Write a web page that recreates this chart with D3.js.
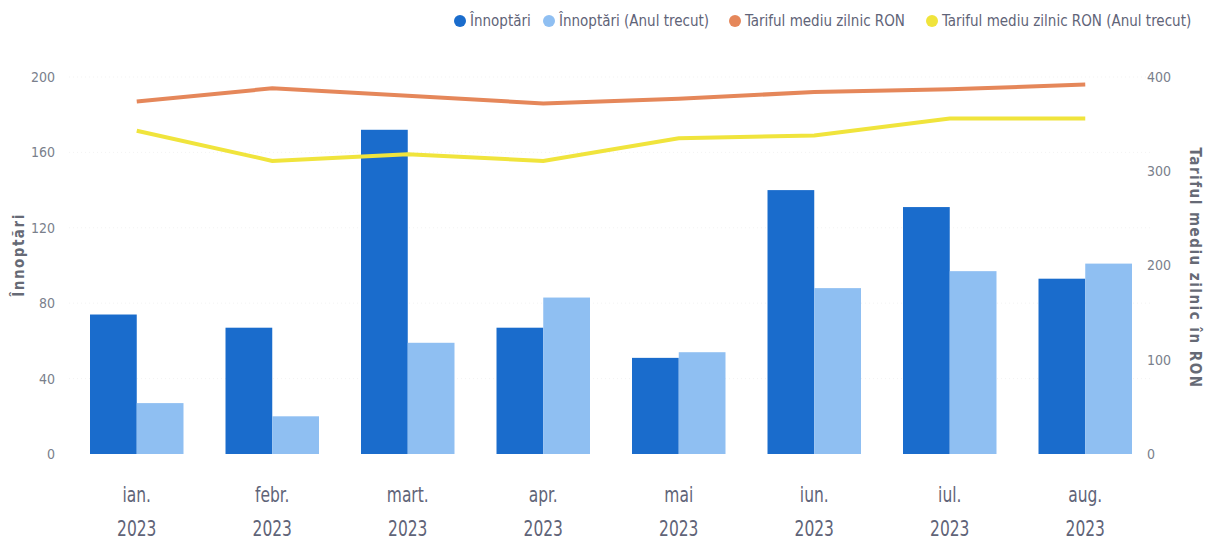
<!DOCTYPE html>
<html>
<head>
<meta charset="utf-8">
<script src="https://cdn.jsdelivr.net/npm/d3@7"></script>
<style>
  body { margin: 0; background: #fff; }
  text { font-family: "Liberation Sans Narrow", "DejaVu Sans Condensed", "Open Sans", sans-serif; }
</style>
</head>
<body>
<div id="chart"></div>
<script>
// values
const months = ['ian.', 'febr.', 'mart.', 'apr.', 'mai', 'iun.', 'iul.', 'aug.'];
const year = '2023';
const nights = [74, 67, 172, 67, 51, 140, 131, 93];
const nightsLastYear = [27, 20, 59, 83, 54, 88, 97, 101];
const rate = [374, 388, 380, 372, 377, 384, 387, 392];
const rateLastYear = [343, 311, 318, 311, 335, 338, 356, 356];
const leftTicks = [0, 40, 80, 120, 160, 200];
const rightTicks = [0, 100, 200, 300, 400];
const legendItems = [
  {label: 'Înnoptări', color: '#1a6ccc'},
  {label: 'Înnoptări (Anul trecut)', color: '#8fbff2'},
  {label: 'Tariful mediu zilnic RON', color: '#e5875a'},
  {label: 'Tariful mediu zilnic RON (Anul trecut)', color: '#f0e43c'}
];

const width = 1222, height = 551;
const margins = {top: 77, right: 69, bottom: 97, left: 69};
const chartHeight = height - margins.top - margins.bottom;

const svg = d3.select('#chart').append('svg')
  .attr('width', width)
  .attr('height', height);

const chart = svg.append('g')
  .attr('transform', `translate(0, ${margins.top})`);

const x = d3.scaleBand()
  .domain(months)
  .range([margins.left, width - margins.right])
  .paddingInner(0.31)
  .paddingOuter(0.155);

const xSeries = d3.scaleBand()
  .domain(['cur', 'prev'])
  .range([0, x.bandwidth()]);

const yLeft = d3.scaleLinear().domain([0, 200]).range([chartHeight, 0]);
const yRight = d3.scaleLinear().domain([0, 400]).range([chartHeight, 0]);

// faint gridlines
chart.append('g')
  .selectAll('line')
  .data(leftTicks.slice(1))
  .enter().append('line')
  .attr('x1', margins.left)
  .attr('x2', width - margins.right)
  .attr('y1', d => yLeft(d))
  .attr('y2', d => yLeft(d))
  .attr('stroke', '#f3f3f3')
  .attr('stroke-dasharray', '1,3');

// left axis
const leftAxis = chart.append('g')
  .attr('transform', `translate(55, 0)`)
  .call(d3.axisLeft(yLeft).tickValues(leftTicks).tickSize(0).tickPadding(0));
leftAxis.select('.domain').remove();
leftAxis.selectAll('text')
  .attr('fill', '#7a7f8c')
  .style('font-size', '14px');

// right axis
const rightAxis = chart.append('g')
  .attr('transform', `translate(${width - 75}, 0)`)
  .call(d3.axisRight(yRight).tickValues(rightTicks).tickSize(0).tickPadding(0));
rightAxis.select('.domain').remove();
rightAxis.selectAll('text')
  .attr('fill', '#7a7f8c')
  .style('font-size', '14px');

// axis titles
svg.append('text')
  .attr('transform', `translate(24, 255) rotate(-90)`)
  .attr('text-anchor', 'middle')
  .attr('fill', '#666a75')
  .style('font-size', '15px')
  .style('font-weight', 'bold')
  .style('letter-spacing', '1.5px')
  .text('Înnoptări');

svg.append('text')
  .attr('transform', `translate(1190, 268) rotate(90)`)
  .attr('text-anchor', 'middle')
  .attr('fill', '#666a75')
  .style('font-size', '15px')
  .style('font-weight', 'bold')
  .style('letter-spacing', '1.5px')
  .text('Tariful mediu zilnic în RON');

// bars
const groups = chart.selectAll('.month')
  .data(months)
  .enter().append('g')
  .attr('class', 'month')
  .attr('transform', d => `translate(${x(d)}, 0)`);

groups.append('rect')
  .attr('x', xSeries('cur'))
  .attr('width', xSeries.bandwidth())
  .attr('y', (d, i) => yLeft(nights[i]))
  .attr('height', (d, i) => chartHeight - yLeft(nights[i]))
  .attr('fill', legendItems[0].color);

groups.append('rect')
  .attr('x', xSeries('prev'))
  .attr('width', xSeries.bandwidth())
  .attr('y', (d, i) => yLeft(nightsLastYear[i]))
  .attr('height', (d, i) => chartHeight - yLeft(nightsLastYear[i]))
  .attr('fill', legendItems[1].color);

// lines
const line = d3.line()
  .x((d, i) => x(months[i]) + x.bandwidth() / 2)
  .y(d => yRight(d));

chart.append('path')
  .datum(rateLastYear)
  .attr('d', line)
  .attr('fill', 'none')
  .attr('stroke', legendItems[3].color)
  .attr('stroke-width', 4);

chart.append('path')
  .datum(rate)
  .attr('d', line)
  .attr('fill', 'none')
  .attr('stroke', legendItems[2].color)
  .attr('stroke-width', 4);

// x labels (narrow look, like the original)
const xLabels = svg.append('g')
  .selectAll('text')
  .data(months)
  .enter().append('text')
  .attr('text-anchor', 'middle')
  .attr('fill', '#5f6478')
  .style('font-size', '21px')
  .attr('transform', d => `translate(${x(d) + x.bandwidth() / 2}, 502) scale(0.82, 1)`);
xLabels.append('tspan').attr('x', 0).text(d => d);
xLabels.append('tspan').attr('x', 0).attr('dy', 34).text(year);

// legend
const legendX = [460, 549, 735, 932];
const legend = svg.append('g')
  .selectAll('g')
  .data(legendItems)
  .enter().append('g')
  .attr('transform', (d, i) => `translate(${legendX[i]}, 21)`);

legend.append('circle')
  .attr('r', 6)
  .attr('fill', d => d.color);

legend.append('text')
  .attr('x', 10)
  .attr('y', 5)
  .attr('fill', '#5f6478')
  .style('font-size', '15px')
  .text(d => d.label);
</script>
</body>
</html>
